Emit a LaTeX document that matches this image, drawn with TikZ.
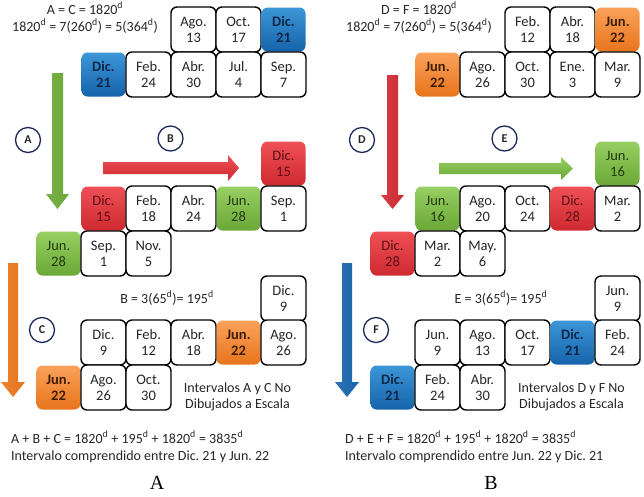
\documentclass[tikz,border=0pt]{standalone}
\usepackage{fontspec}
\setmainfont{Carlito}
\newfontfamily\labelserif{Liberation Serif}
\frenchspacing
\definecolor{bluetop}{HTML}{3C96D8}
\definecolor{bluebot}{HTML}{1663AA}
\definecolor{bluetxt}{HTML}{0E2848}
\definecolor{greentop}{HTML}{98CF62}
\definecolor{greenbot}{HTML}{6AA836}
\definecolor{greentxt}{HTML}{24380F}
\definecolor{redtop}{HTML}{EE5056}
\definecolor{redbot}{HTML}{CF2930}
\definecolor{redtxt}{HTML}{5C1015}
\definecolor{orgtop}{HTML}{F9A25A}
\definecolor{orgbot}{HTML}{E8741C}
\definecolor{orgtxt}{HTML}{3D1E05}
\definecolor{navy}{HTML}{1F2A5C}
\newcommand\sd{\textsuperscript{d}}
\begin{document}
\begin{tikzpicture}[x=1pt,y=-1pt,
  cellbase/.style={rounded corners=6pt, minimum width=45pt, minimum height=45pt, align=center, inner sep=0pt, font=\fontsize{14.5}{16}\selectfont},
  wcell/.style={cellbase, draw=black, line width=1.4pt, fill=white, text=black!85},
  bcell/.style={cellbase, minimum width=44pt, minimum height=44pt, top color=bluetop, bottom color=bluebot, text=bluetxt, font=\fontsize{14.5}{16}\selectfont\bfseries},
  gcell/.style={cellbase, minimum width=44pt, minimum height=44pt, top color=greentop, bottom color=greenbot, text=greentxt},
  rcell/.style={cellbase, minimum width=44pt, minimum height=44pt, top color=redtop, bottom color=redbot, text=redtxt},
  ocell/.style={cellbase, minimum width=44pt, minimum height=44pt, top color=orgtop, bottom color=orgbot, text=orgtxt, font=\fontsize{14.5}{16}\selectfont\bfseries},
  circ/.style={circle, draw=navy, line width=1.3pt, minimum size=25pt, inner sep=0pt, text=black!85, font=\fontsize{12}{12}\selectfont\bfseries},
  txt/.style={inner sep=0pt, anchor=base, text=black!85, font=\fontsize{14}{16}\selectfont},
  ltxt/.style={txt, anchor=base west},
  panel/.style={inner sep=0pt, anchor=base, font=\labelserif\fontsize{20}{20}\selectfont}
]
\useasboundingbox (0,0) rectangle (644,496);

% ================= LEFT PANEL =================
\node[txt] (la1) at (85,14) {A = C = 1820\sd};
\node[txt] (la2) at (85,31) {1820\sd{} = 7(260\sd) = 5(364\sd)};
\node[wcell] (l11) at (193.5,29.5) {Ago.\\13};
\node[wcell] (l12) at (238.5,29.5) {Oct.\\17};
\node[bcell] (l13) at (283.5,29.5) {Dic.\\21};
\node[bcell] (l21) at (103.5,74.5) {Dic.\\21};
\node[wcell] (l22) at (148.5,74.5) {Feb.\\24};
\node[wcell] (l23) at (193.5,74.5) {Abr.\\30};
\node[wcell] (l24) at (238.5,74.5) {Jul.\\4};
\node[wcell] (l25) at (283.5,74.5) {Sep.\\7};
% arrow A (green, down)
\shade[left color=greenbot!90, middle color=greentop, right color=greenbot]
  (52,73) -- (63,73) -- (63,194) -- (69,194) -- (57.5,209) -- (46,194) -- (52,194) -- cycle;
\node[circ] (cA) at (28,140) {A};
% arrow B (red, right)
\shade[top color=redtop, bottom color=redbot]
  (103,162) -- (228,162) -- (228,155) -- (239,168) -- (228,181) -- (228,174) -- (103,174) -- cycle;
\node[circ] (cB) at (170.5,138.5) {B};
\node[rcell] (l31) at (283.5,163.5) {Dic.\\15};
\node[rcell] (l41) at (103.5,208.5) {Dic.\\15};
\node[wcell] (l42) at (148.5,208.5) {Feb.\\18};
\node[wcell] (l43) at (193.5,208.5) {Abr.\\24};
\node[gcell] (l44) at (238.5,208.5) {Jun.\\28};
\node[wcell] (l45) at (283.5,208.5) {Sep.\\1};
\node[gcell] (l51) at (58.5,253.5) {Jun.\\28};
\node[wcell] (l52) at (103.5,253.5) {Sep.\\1};
\node[wcell] (l53) at (148.5,253.5) {Nov.\\5};
% C section
\node[txt] (lb) at (167,303) {B = 3(65\sd)= 195\sd};
\node[wcell] (l61) at (283.5,298.5) {Dic.\\9};
\node[wcell] (l71) at (103.5,342.5) {Dic.\\9};
\node[wcell] (l72) at (148.5,342.5) {Feb.\\12};
\node[wcell] (l73) at (193.5,342.5) {Abr.\\18};
\node[ocell] (l74) at (238.5,342.5) {Jun.\\22};
\node[wcell] (l75) at (283.5,342.5) {Ago.\\26};
\node[ocell] (l81) at (58.5,387.5) {Jun.\\22};
\node[wcell] (l82) at (103.5,387.5) {Ago.\\26};
\node[wcell] (l83) at (148.5,387.5) {Oct.\\30};
% arrow C (orange, down)
\shade[left color=orgbot!90, middle color=orgtop, right color=orgbot]
  (8,263) -- (18,263) -- (18,382) -- (25,382) -- (13,397) -- (1,382) -- (8,382) -- cycle;
\node[circ] (cC) at (42,330) {C};
\node[txt] (lnote1) at (237.5,392) {Intervalos A y C No};
\node[txt] (lnote2) at (237.5,408) {Dibujados a Escala};
\node[ltxt] (lsum) at (11,443) {A + B + C = 1820\sd{} + 195\sd{} + 1820\sd{} = 3835\sd};
\node[ltxt] (lint) at (11,460) {Intervalo comprendido entre Dic. 21 y Jun. 22};
\node[panel] (lpanel) at (157,489) {A};

% ================= RIGHT PANEL =================
\node[txt] (ra1) at (419,14) {D = F = 1820\sd};
\node[txt] (ra2) at (419,31) {1820\sd{} = 7(260\sd) = 5(364\sd)};
\node[wcell] (r11) at (527.5,29.5) {Feb.\\12};
\node[wcell] (r12) at (572.5,29.5) {Abr.\\18};
\node[ocell] (r13) at (617.5,29.5) {Jun.\\22};
\node[ocell] (r21) at (437.5,74.5) {Jun.\\22};
\node[wcell] (r22) at (482.5,74.5) {Ago.\\26};
\node[wcell] (r23) at (527.5,74.5) {Oct.\\30};
\node[wcell] (r24) at (572.5,74.5) {Ene.\\3};
\node[wcell] (r25) at (617.5,74.5) {Mar.\\9};
% arrow D (red, down)
\shade[left color=redbot!90, middle color=redtop, right color=redbot]
  (387,75) -- (398,75) -- (398,195) -- (404,195) -- (392.5,209) -- (381,195) -- (387,195) -- cycle;
\node[circ] (cD) at (362,140) {D};
% arrow E (green, right)
\shade[top color=greentop, bottom color=greenbot]
  (439,163) -- (561,163) -- (561,157) -- (573,168.5) -- (561,180) -- (561,174) -- (439,174) -- cycle;
\node[circ] (cE) at (504.5,138.5) {E};
\node[gcell] (r31) at (617.5,163.5) {Jun.\\16};
\node[gcell] (r41) at (437.5,208.5) {Jun.\\16};
\node[wcell] (r42) at (482.5,208.5) {Ago.\\20};
\node[wcell] (r43) at (527.5,208.5) {Oct.\\24};
\node[rcell] (r44) at (572.5,208.5) {Dic.\\28};
\node[wcell] (r45) at (617.5,208.5) {Mar.\\2};
\node[rcell] (r51) at (392.5,253.5) {Dic.\\28};
\node[wcell] (r52) at (437.5,253.5) {Mar.\\2};
\node[wcell] (r53) at (482.5,253.5) {May.\\6};
\node[txt] (rb) at (501,303) {E = 3(65\sd)= 195\sd};
\node[wcell] (r61) at (617.5,298.5) {Jun.\\9};
\node[wcell] (r71) at (437.5,342.5) {Jun.\\9};
\node[wcell] (r72) at (482.5,342.5) {Ago.\\13};
\node[wcell] (r73) at (527.5,342.5) {Oct.\\17};
\node[bcell] (r74) at (572.5,342.5) {Dic.\\21};
\node[wcell] (r75) at (617.5,342.5) {Feb.\\24};
\node[bcell] (r81) at (392.5,387.5) {Dic.\\21};
\node[wcell] (r82) at (437.5,387.5) {Feb.\\24};
\node[wcell] (r83) at (482.5,387.5) {Abr.\\30};
% arrow F (blue, down)
\shade[left color=bluebot!90, middle color=bluetop, right color=bluebot]
  (342,263) -- (352,263) -- (352,382) -- (359,382) -- (347,397) -- (335,382) -- (342,382) -- cycle;
\node[circ] (cF) at (376,330) {F};
\node[txt] (rnote1) at (571.5,392) {Intervalos D y F No};
\node[txt] (rnote2) at (571.5,408) {Dibujados a Escala};
\node[ltxt] (rsum) at (345,443) {D + E + F = 1820\sd{} + 195\sd{} + 1820\sd{} = 3835\sd};
\node[ltxt] (rint) at (345,460) {Intervalo comprendido entre Jun. 22 y Dic. 21};
\node[panel] (rpanel) at (491,489) {B};
\end{tikzpicture}
\end{document}
